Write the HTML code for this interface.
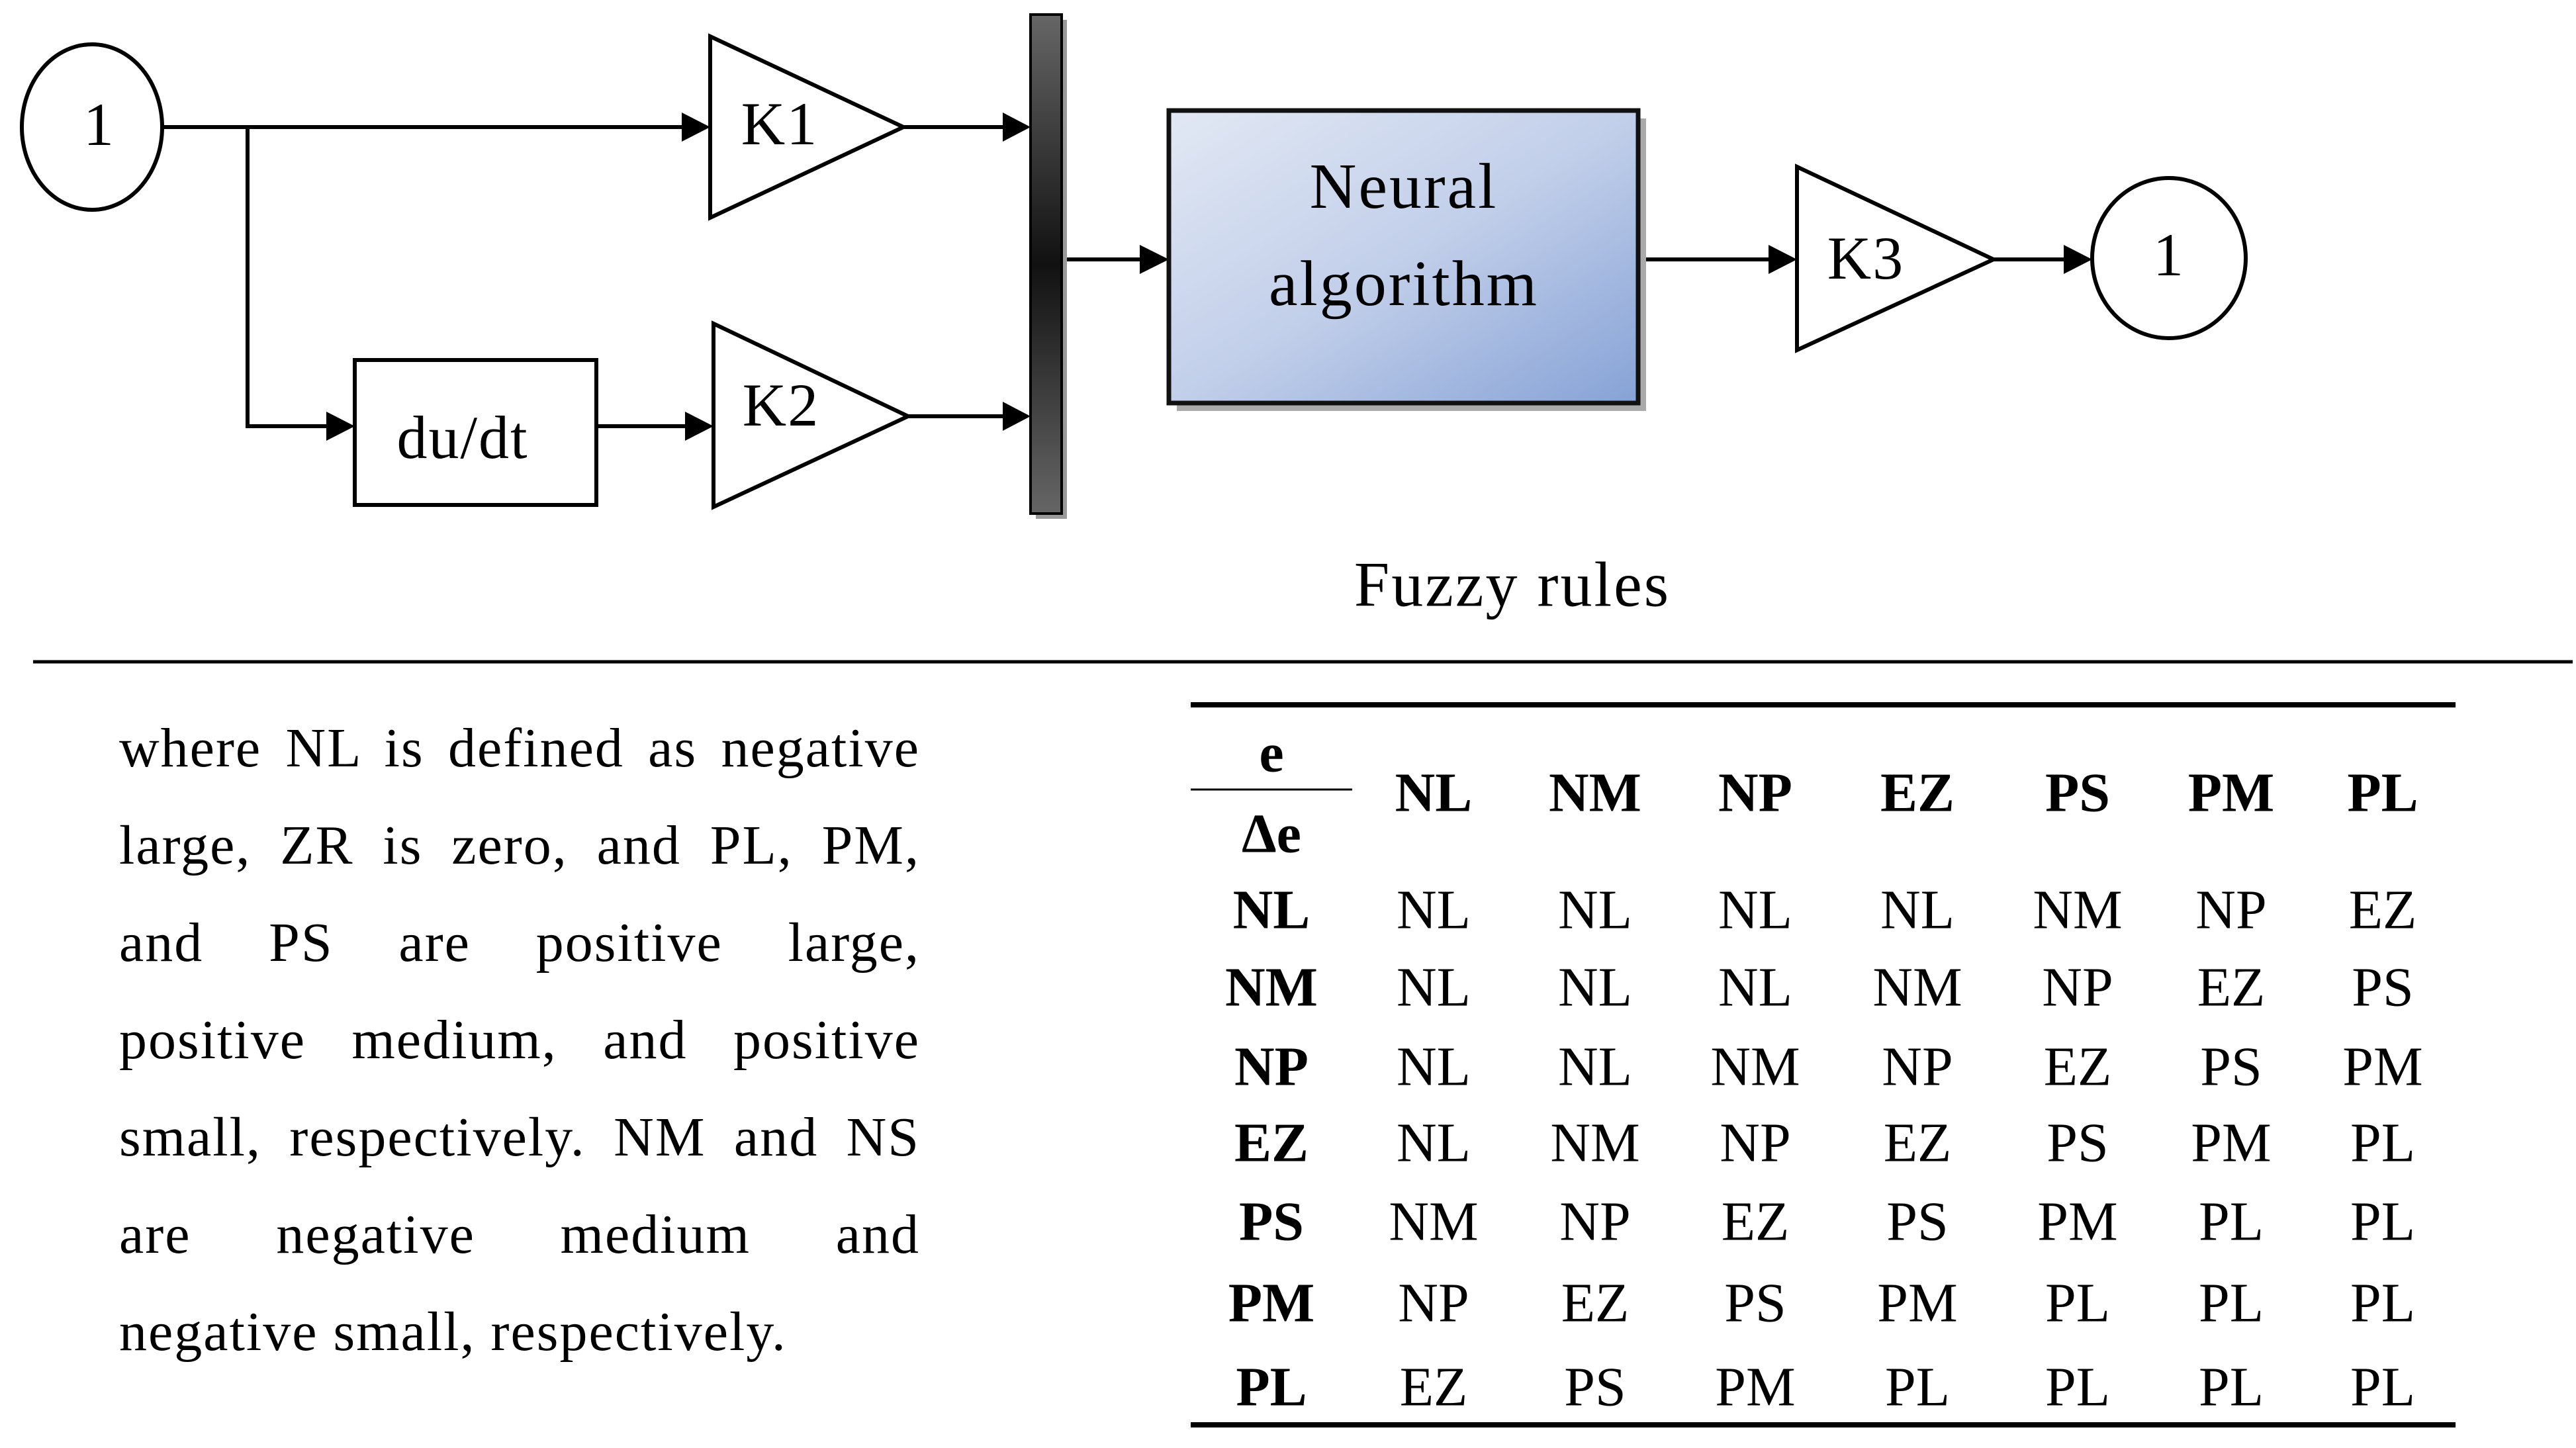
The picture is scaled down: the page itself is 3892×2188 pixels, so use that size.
<!DOCTYPE html>
<html><head><meta charset="utf-8"><style>
html,body{margin:0;padding:0;background:#fff;}
body{width:3892px;height:2188px;position:relative;overflow:hidden;font-family:"Liberation Serif",serif;}
.p{position:absolute;left:180px;width:1210px;font-size:84px;letter-spacing:2px;line-height:147px;}
.p div{text-align:justify;text-align-last:justify;height:147px;white-space:nowrap;}
.p div.l{text-align-last:left;}
</style></head><body>
<svg width="3892" height="2188" style="position:absolute;left:0;top:0" font-family="Liberation Serif, serif">
<defs>
<linearGradient id="bus" x1="0" y1="0" x2="0" y2="1">
<stop offset="0" stop-color="#666"/><stop offset="0.5" stop-color="#111"/><stop offset="1" stop-color="#666"/></linearGradient>
<linearGradient id="nb" x1="0" y1="0" x2="1" y2="1">
<stop offset="0" stop-color="#e2e8f4"/><stop offset="0.5" stop-color="#c2cfea"/><stop offset="1" stop-color="#86a2d6"/></linearGradient>
</defs>
<g stroke="#000" stroke-width="6" fill="none">
<ellipse cx="139" cy="192" rx="106" ry="125" fill="#fff"/>
<line x1="245" y1="192" x2="1030" y2="192"/>
<path d="M374 192 V644 H495"/>
<polygon points="1073,55 1365,192 1073,329" fill="#fff"/>
<line x1="1365" y1="192" x2="1515" y2="192"/>
<rect x="536" y="544" width="365" height="219" fill="#fff"/>
<line x1="901" y1="644" x2="1040" y2="644"/>
<polygon points="1078,489 1372,629 1078,766" fill="#fff"/>
<line x1="1372" y1="629" x2="1515" y2="629"/>
<line x1="1604" y1="392" x2="1722" y2="392"/>
<line x1="2475" y1="392" x2="2672" y2="392"/>
<polygon points="2715,252 3012,392 2715,529" fill="#fff"/>
<line x1="3012" y1="392" x2="3118" y2="392"/>
<ellipse cx="3277" cy="390" rx="116" ry="121" fill="#fff"/>
</g>
<g fill="#000">
<path d="M1030,170L1073,192L1030,214z"/>
<path d="M493,622L536,644L493,666z"/>
<path d="M1035,622L1078,644L1035,666z"/>
<path d="M1515,170L1557,192L1515,214z"/>
<path d="M1515,607L1557,629L1515,651z"/>
<path d="M1722,370L1766,392L1722,414z"/>
<path d="M2672,370L2715,392L2672,414z"/>
<path d="M3118,370L3161,392L3118,414z"/>
</g>
<rect x="1565" y="30" width="47" height="754" fill="#999"/>
<rect x="1557" y="22" width="47" height="754" fill="url(#bus)" stroke="#000" stroke-width="4"/>
<rect x="1778" y="179" width="709" height="442" fill="#aaa"/>
<rect x="1766" y="167" width="709" height="442" fill="url(#nb)" stroke="#111" stroke-width="7"/>
<g font-size="92" text-anchor="middle" dominant-baseline="central" letter-spacing="2">
<text x="150" y="188">1</text>
<text x="1178" y="187">K1</text>
<text x="1180" y="612">K2</text>
<text x="699" y="661">du/dt</text>
<text x="2819" y="390">K3</text>
<text x="3277" y="385">1</text>
<text x="2121" y="282" font-size="98" letter-spacing="3">Neural</text>
<text x="2121" y="429" font-size="98" letter-spacing="3">algorithm</text>
<text x="2285" y="883" font-size="96" letter-spacing="3">Fuzzy rules</text>
</g>
<line x1="50" y1="1000" x2="3887" y2="1000" stroke="#000" stroke-width="5"/>
<line x1="1799" y1="1065" x2="3710" y2="1065" stroke="#000" stroke-width="8"/>
<line x1="1799" y1="2153" x2="3710" y2="2153" stroke="#000" stroke-width="8"/>
<line x1="1799" y1="1193" x2="2043" y2="1193" stroke="#000" stroke-width="3"/>
<g font-size="84" text-anchor="middle" dominant-baseline="central">
<g font-weight="bold">
<text x="1921" y="1138">e</text><text x="1921" y="1260">Δe</text>
<text x="2166" y="1198">NL</text><text x="2410" y="1198">NM</text><text x="2652" y="1198">NP</text><text x="2897" y="1198">EZ</text><text x="3139" y="1198">PS</text><text x="3371" y="1198">PM</text><text x="3600" y="1198">PL</text>
<text x="1921" y="1375">NL</text><text x="1921" y="1492">NM</text><text x="1921" y="1612">NP</text><text x="1921" y="1727">EZ</text><text x="1921" y="1846">PS</text><text x="1921" y="1969">PM</text><text x="1921" y="2096">PL</text>
</g>
<g>
<text x="2166" y="1375">NL</text><text x="2410" y="1375">NL</text><text x="2652" y="1375">NL</text><text x="2897" y="1375">NL</text><text x="3139" y="1375">NM</text><text x="3371" y="1375">NP</text><text x="3600" y="1375">EZ</text>
<text x="2166" y="1492">NL</text><text x="2410" y="1492">NL</text><text x="2652" y="1492">NL</text><text x="2897" y="1492">NM</text><text x="3139" y="1492">NP</text><text x="3371" y="1492">EZ</text><text x="3600" y="1492">PS</text>
<text x="2166" y="1612">NL</text><text x="2410" y="1612">NL</text><text x="2652" y="1612">NM</text><text x="2897" y="1612">NP</text><text x="3139" y="1612">EZ</text><text x="3371" y="1612">PS</text><text x="3600" y="1612">PM</text>
<text x="2166" y="1727">NL</text><text x="2410" y="1727">NM</text><text x="2652" y="1727">NP</text><text x="2897" y="1727">EZ</text><text x="3139" y="1727">PS</text><text x="3371" y="1727">PM</text><text x="3600" y="1727">PL</text>
<text x="2166" y="1846">NM</text><text x="2410" y="1846">NP</text><text x="2652" y="1846">EZ</text><text x="2897" y="1846">PS</text><text x="3139" y="1846">PM</text><text x="3371" y="1846">PL</text><text x="3600" y="1846">PL</text>
<text x="2166" y="1969">NP</text><text x="2410" y="1969">EZ</text><text x="2652" y="1969">PS</text><text x="2897" y="1969">PM</text><text x="3139" y="1969">PL</text><text x="3371" y="1969">PL</text><text x="3600" y="1969">PL</text>
<text x="2166" y="2096">EZ</text><text x="2410" y="2096">PS</text><text x="2652" y="2096">PM</text><text x="2897" y="2096">PL</text><text x="3139" y="2096">PL</text><text x="3371" y="2096">PL</text><text x="3600" y="2096">PL</text>
</g></g>
</svg>
<div class="p" style="top:1057px">
<div>where NL is defined as negative</div>
<div>large, ZR is zero, and PL, PM,</div>
<div>and PS are positive large,</div>
<div>positive medium, and positive</div>
<div>small, respectively. NM and NS</div>
<div>are negative medium and</div>
<div class="l">negative small, respectively.</div>
</div>
</body></html>
